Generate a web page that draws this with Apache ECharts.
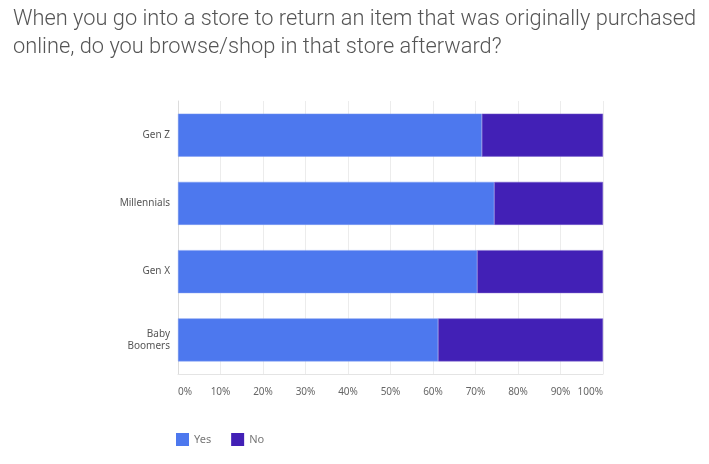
<!DOCTYPE html>
<html><head><meta charset="utf-8">
<script src="https://cdn.jsdelivr.net/npm/echarts@6/dist/echarts.min.js"></script>
<style>html,body{margin:0;padding:0;background:#fff}#c{width:709px;height:464px}</style>
</head><body><div id="c"></div>
<script>
const categories = ['Gen Z', 'Millennials', 'Gen X', 'Baby\nBoomers'];
const yesValues = [71.5, 74.4, 70.4, 61.2];
const noValues = [28.5, 25.6, 29.6, 38.8];
const xTicks = [0, 10, 20, 30, 40, 50, 60, 70, 80, 90, 100];

const chart = echarts.init(document.getElementById('c'));
chart.setOption({
  animation: false,
  title: {
    text: 'When you go into a store to return an item that was originally purchased\nonline, do you browse/shop in that store afterward?',
    left: 8, top: 1,
    textStyle: {fontFamily: 'Roboto', fontWeight: 300, fontSize: 21.8, color: '#555', lineHeight: 28}
  },
  legend: {
    data: ['Yes', 'No'], left: 171, top: 428, itemWidth: 13, itemHeight: 13, itemGap: 20,
    icon: 'rect',
    itemStyle: {borderWidth: 0},
    textStyle: {fontFamily: 'Noto Sans', fontSize: 11, color: '#777'}
  },
  grid: {left: 178, right: 106, top: 101, bottom: 90, containLabel: false},
  xAxis: {
    type: 'value', min: 0, max: 100, interval: 10,
    axisLine: {show: true, lineStyle: {color: '#e4e4e4'}}, axisTick: {show: false},
    splitLine: {show: true, lineStyle: {color: '#ececec'}},
    axisLabel: {
      formatter: v => xTicks.includes(v) ? v + '%' : '',
      fontFamily: 'Noto Sans', fontSize: 10, color: '#666', margin: 13,
      alignMinLabel: 'left', alignMaxLabel: 'right'
    }
  },
  yAxis: {
    type: 'category', data: categories, inverse: true,
    axisLine: {show: true, lineStyle: {color: '#dcdcdc'}}, axisTick: {show: false},
    axisLabel: {fontFamily: 'Noto Sans', fontSize: 10, color: '#555', margin: 8, lineHeight: 12}
  },
  series: [
    {name: 'Yes', type: 'bar', stack: 's', data: yesValues, barWidth: 43,
     itemStyle: {color: '#4d78ee', borderColor: '#7f9cf3', borderWidth: 0.5}},
    {name: 'No', type: 'bar', stack: 's', data: noValues, barWidth: 43,
     itemStyle: {color: '#4220b6', borderColor: '#7a63cc', borderWidth: 0.5}}
  ]
});
</script></body></html>
